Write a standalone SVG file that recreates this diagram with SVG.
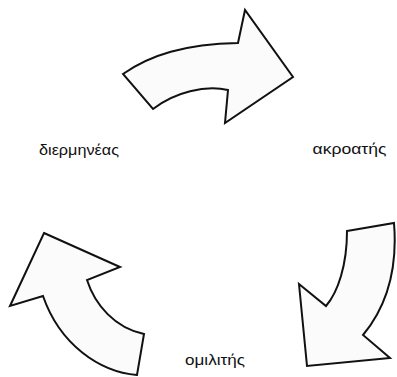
<svg xmlns="http://www.w3.org/2000/svg" width="397" height="377" viewBox="0 0 397 377">
<style>
.arrow{fill:#fbfbfb;stroke:#111;stroke-width:2;stroke-linejoin:miter}
.lbl{font-family:"Liberation Sans",Arial,sans-serif;font-size:15px;fill:#111;text-anchor:middle}
</style>
<rect width="397" height="377" fill="#fff"/>
<g id="connectors">
<path id="arrow-top" class="arrow" d="M123,74 C150,55 185,44 238,43 L245,10 L293,77 L225,123 L228,90 C205,85 175,92 153,109 Z"/>
<path id="arrow-right" class="arrow" d="M347,231 L394,223 C397,260 392,300 363,335 L390,358 L307,366 L299,284 L326,306 C338,292 347,265 347,231 Z"/>
<path id="arrow-left" class="arrow" d="M44,233 L120,267 L87,280 C95,305 115,328 144,334 L137,375 C100,372 60,345 43,296 L10,306 Z"/>
</g>
<g id="node-interpreter"><text class="lbl" x="79" y="155" textLength="80" lengthAdjust="spacingAndGlyphs">διερμηνέας</text></g>
<g id="node-listener"><text class="lbl" x="349.5" y="154" textLength="74" lengthAdjust="spacingAndGlyphs">ακροατής</text></g>
<g id="node-speaker"><text class="lbl" x="215" y="365" textLength="60" lengthAdjust="spacingAndGlyphs">ομιλιτής</text></g>
</svg>
